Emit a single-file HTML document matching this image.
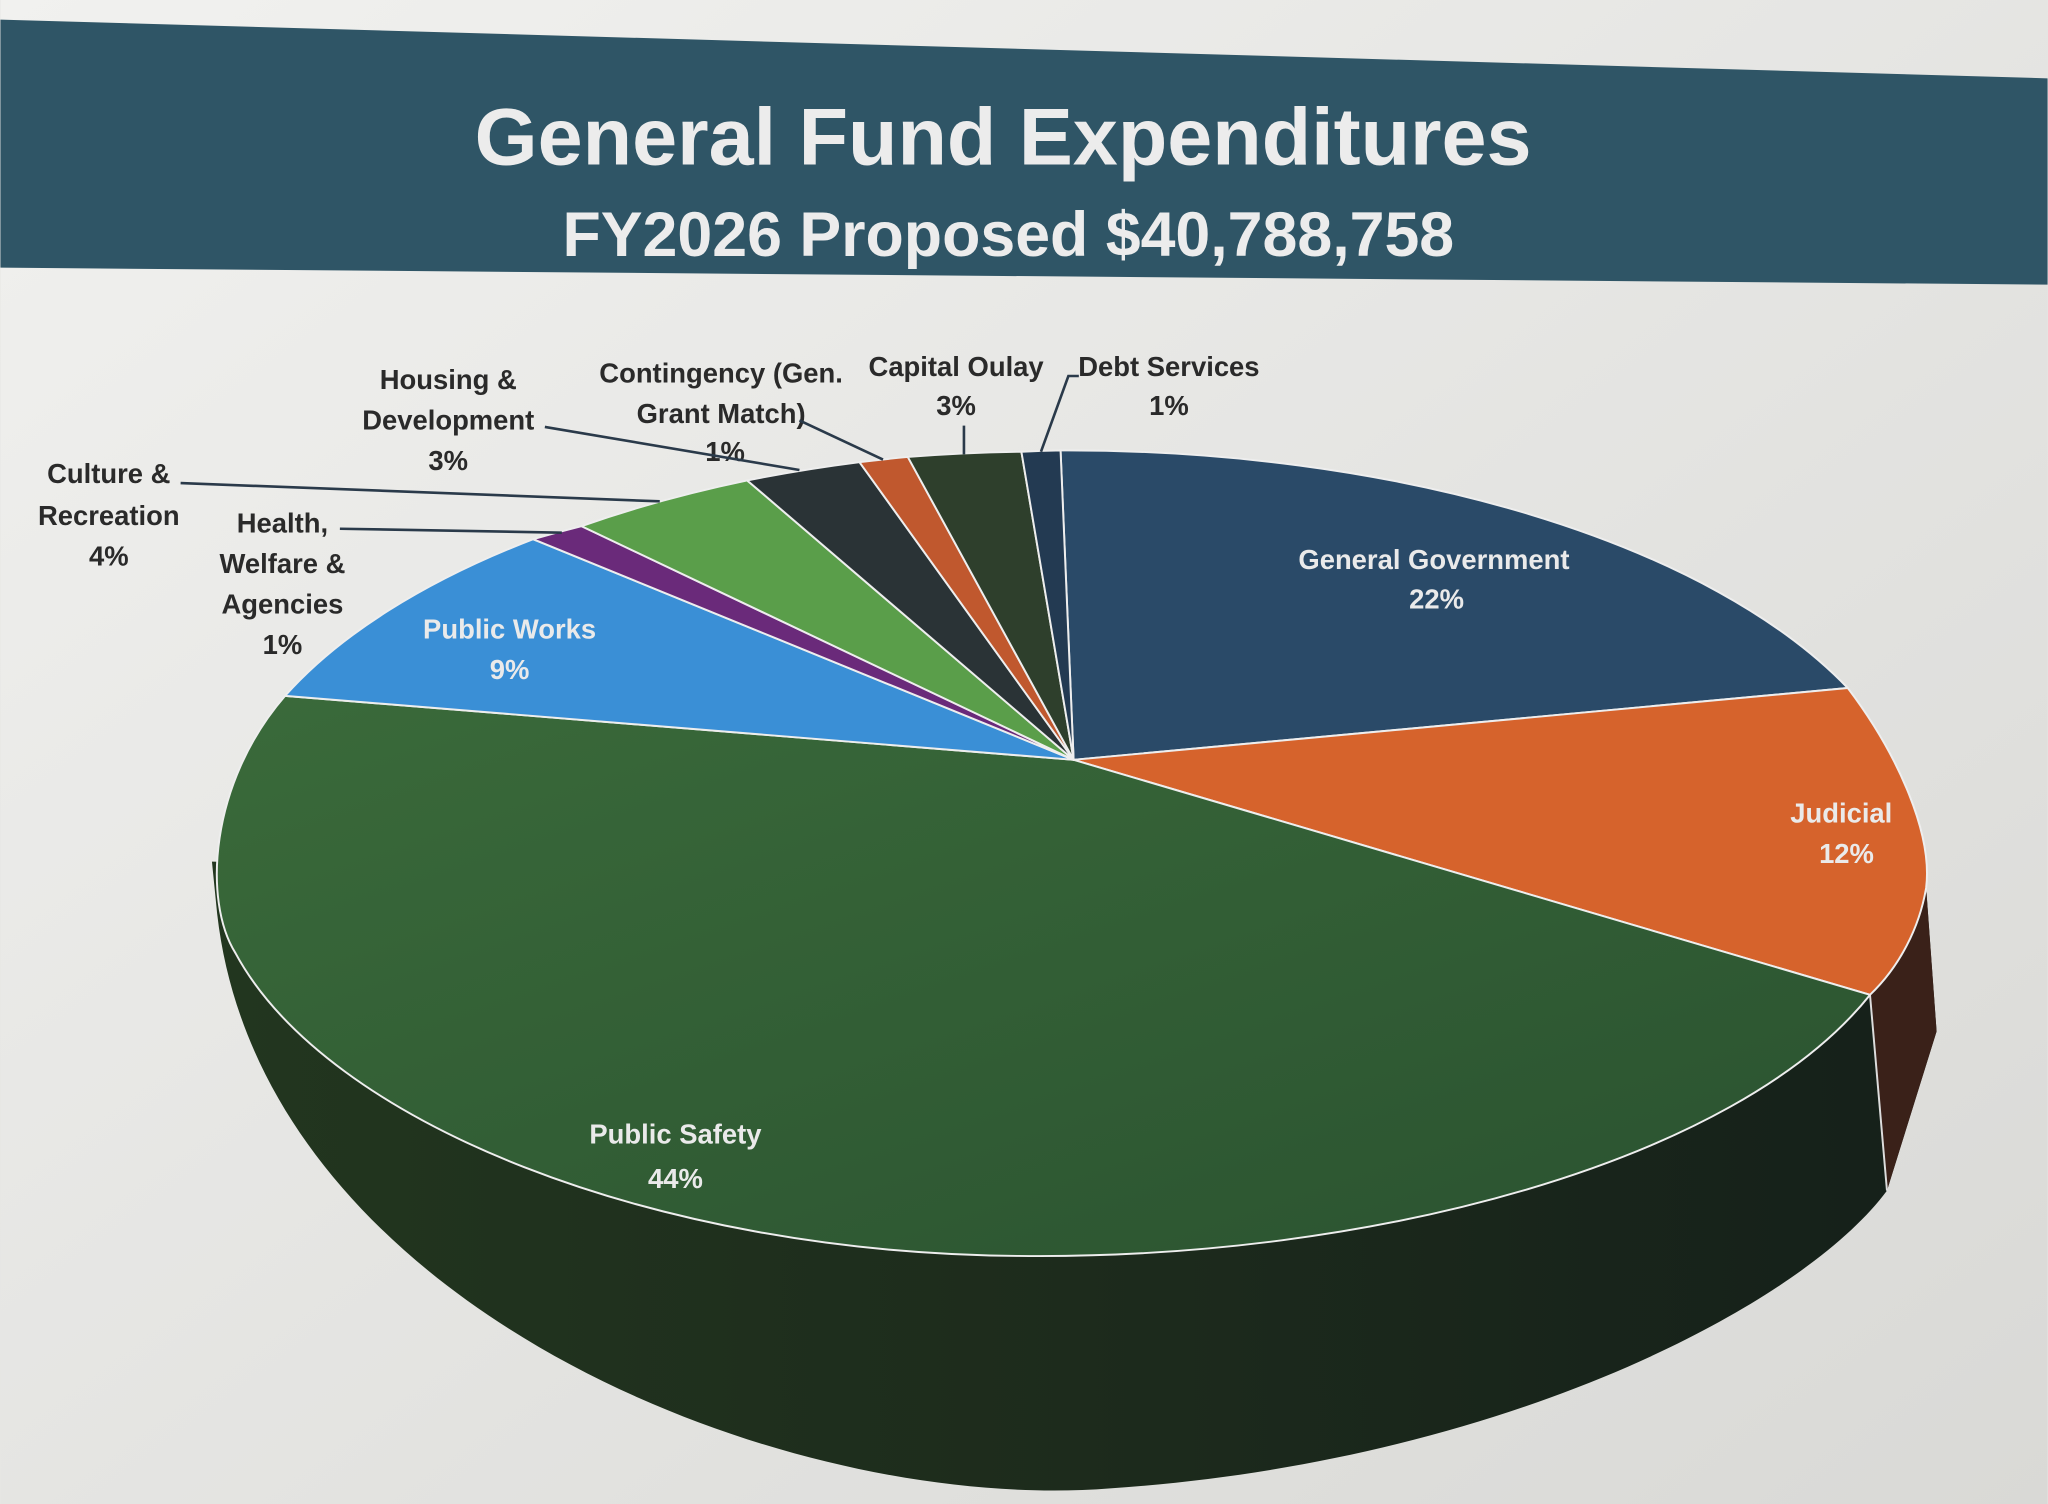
<!DOCTYPE html>
<html><head><meta charset="utf-8"><style>
html,body{margin:0;padding:0;width:2048px;height:1504px;overflow:hidden;background:#e6e6e3}
svg{display:block}
text{font-family:"Liberation Sans",sans-serif;font-weight:bold}
</style></head><body>
<svg width="2048" height="1504" viewBox="0 0 1568 1152" xmlns="http://www.w3.org/2000/svg">
<defs>
<linearGradient id="bg" x1="0" y1="0" x2="1" y2="1">
<stop offset="0" stop-color="#f1f1ef"/><stop offset="1" stop-color="#d9d9d6"/></linearGradient>
<linearGradient id="side" x1="0" y1="0" x2="1" y2="0">
<stop offset="0" stop-color="#22361f"/><stop offset="0.5" stop-color="#1d2b1c"/><stop offset="1" stop-color="#15201a"/></linearGradient>
<linearGradient id="top" x1="0" y1="0" x2="1" y2="1">
<stop offset="0" stop-color="#3a6a3a"/><stop offset="1" stop-color="#2a5230"/></linearGradient>
</defs>
<rect width="1568" height="1152" fill="url(#bg)"/>
<polygon points="0,15 1568,60 1568,218 0,205" fill="#2f5566"/>
<text x="768" y="126" text-anchor="middle" font-size="62" fill="#ececec">General Fund Expenditures</text>
<text x="772" y="196" text-anchor="middle" font-size="48" fill="#ececec">FY2026 Proposed $40,788,758</text>

<!-- side -->
<path d="M162,660 L166,700 C200,1000 600,1160 850,1140 C1150,1120 1380,1000 1445,912 L1483,790 L1475,680 Z" fill="url(#side)"/>
<polygon points="1432,762 1475,680 1483,790 1445,912" fill="#3a2119"/>
<line x1="1432" y1="762" x2="1445" y2="912" stroke="#ddd" stroke-width="1.5"/>

<g stroke="#eee" stroke-width="1.5" stroke-linejoin="round">
<path d="M822,582 L812,345 A656,310 0 0 1 1415,527 Z" fill="#2a4a68"/>
<path d="M822,582 L1415,527 C1455,580 1480,640 1475,680 C1470,710 1455,740 1432,762 Z" fill="#d6632c"/>
<path d="M822,582 L1432,762 C1330,890 1050,965 780,962 C500,960 250,860 180,730 C155,690 160,600 218,533 Z" fill="url(#top)"/>
<path d="M822,582 L218,533 A656,310 0 0 1 408,413 Z" fill="#3a8fd6"/>
<path d="M822,582 L408,413 A656,310 0 0 1 445,403 Z" fill="#6a2a7a"/>
<path d="M822,582 L445,403 A656,310 0 0 1 572,368 Z" fill="#5a9e4a"/>
<path d="M822,582 L572,368 A656,310 0 0 1 658,354 Z" fill="#2a3336"/>
<path d="M822,582 L658,354 A656,310 0 0 1 695,350 Z" fill="#c0582e"/>
<path d="M822,582 L695,350 A656,310 0 0 1 782,346 Z" fill="#2e3f2c"/>
<path d="M822,582 L782,346 A656,310 0 0 1 812,345 Z" fill="#233a52"/>
</g>

<g fill="#eaeaea" font-size="21" text-anchor="middle">
<text x="1098" y="436">General Government</text><text x="1100" y="466">22%</text>
<text x="1410" y="630">Judicial</text><text x="1414" y="661">12%</text>
<text x="517" y="876">Public Safety</text><text x="517" y="910">44%</text>
<text x="390" y="489">Public Works</text><text x="390" y="520">9%</text>
</g>
<g fill="#2a2a2a" font-size="21" text-anchor="middle">
<text x="343" y="298">Housing &amp;</text><text x="343" y="329">Development</text><text x="343" y="360">3%</text>
<text x="552" y="293">Contingency (Gen.</text><text x="552" y="324">Grant Match)</text><text x="555" y="353">1%</text>
<text x="732" y="288">Capital Oulay</text><text x="732" y="318">3%</text>
<text x="895" y="288">Debt Services</text><text x="895" y="318">1%</text>
<text x="83" y="370">Culture &amp;</text><text x="83" y="402">Recreation</text><text x="83" y="433">4%</text>
<text x="216" y="408">Health,</text><text x="216" y="439">Welfare &amp;</text><text x="216" y="470">Agencies</text><text x="216" y="501">1%</text>
</g>
<g stroke="#2a3a4a" stroke-width="2" fill="none">
<polyline points="417,327 612,360"/>
<polyline points="612,322 676,352"/>
<polyline points="738,326 738,348"/>
<polyline points="826,288 818,288 797,346"/>
<polyline points="138,370 505,384"/>
<polyline points="260,405 430,408"/>
</g>
</svg>
</body></html>
